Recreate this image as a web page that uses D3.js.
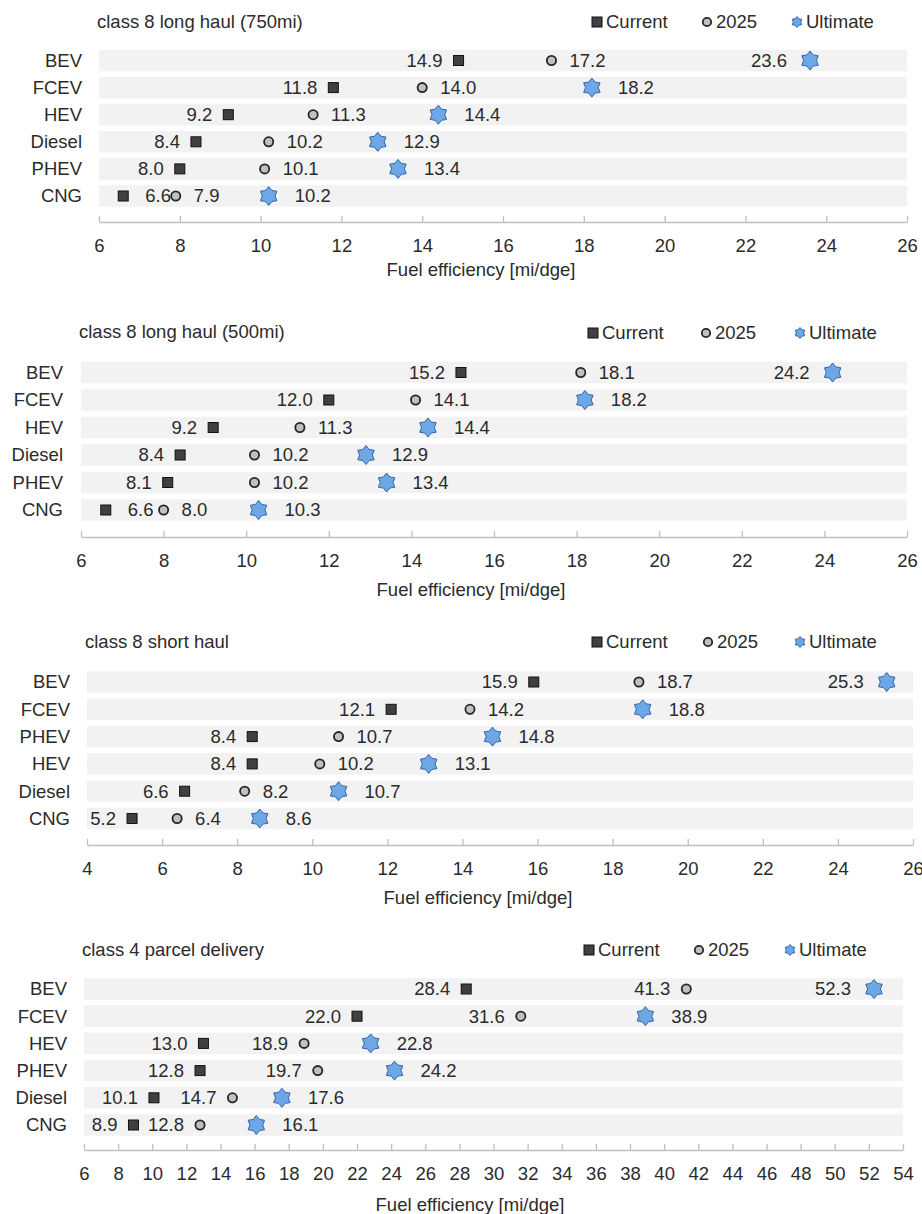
<!DOCTYPE html>
<html>
<head>
<meta charset="utf-8">
<script src="https://cdn.jsdelivr.net/npm/d3@7"></script>
<style>
  html, body { margin: 0; padding: 0; background: #ffffff; }
  svg { display: block; }
  text { font-family: "Liberation Sans", Arial, sans-serif; fill: #2b2b2b; }
</style>
</head>
<body>
<script>
// ---------------- DATA ----------------
const panelTitles = [
  "class 8 long haul (750mi)",
  "class 8 long haul (500mi)",
  "class 8 short haul",
  "class 4 parcel delivery"
];
const categories = [
  ["BEV", "FCEV", "HEV", "Diesel", "PHEV", "CNG"],
  ["BEV", "FCEV", "HEV", "Diesel", "PHEV", "CNG"],
  ["BEV", "FCEV", "PHEV", "HEV", "Diesel", "CNG"],
  ["BEV", "FCEV", "HEV", "PHEV", "Diesel", "CNG"]
];
const seriesNames = ["Current", "2025", "Ultimate"];
const currentValues = [
  [14.9, 11.8, 9.2, 8.4, 8.0, 6.6],
  [15.2, 12.0, 9.2, 8.4, 8.1, 6.6],
  [15.9, 12.1, 8.4, 8.4, 6.6, 5.2],
  [28.4, 22.0, 13.0, 12.8, 10.1, 8.9]
];
const values2025 = [
  [17.2, 14.0, 11.3, 10.2, 10.1, 7.9],
  [18.1, 14.1, 11.3, 10.2, 10.2, 8.0],
  [18.7, 14.2, 10.7, 10.2, 8.2, 6.4],
  [41.3, 31.6, 18.9, 19.7, 14.7, 12.8]
];
const ultimateValues = [
  [23.6, 18.2, 14.4, 12.9, 13.4, 10.2],
  [24.2, 18.2, 14.4, 12.9, 13.4, 10.3],
  [25.3, 18.8, 14.8, 13.1, 10.7, 8.6],
  [52.3, 38.9, 22.8, 24.2, 17.6, 16.1]
];
const xDomains = [[6, 26], [6, 26], [4, 26], [6, 54]];
const xTickLabels = [
  [6, 8, 10, 12, 14, 16, 18, 20, 22, 24, 26],
  [6, 8, 10, 12, 14, 16, 18, 20, 22, 24, 26],
  [4, 6, 8, 10, 12, 14, 16, 18, 20, 22, 24, 26],
  [6, 8, 10, 12, 14, 16, 18, 20, 22, 24, 26, 28, 30, 32, 34, 36, 38, 40, 42, 44, 46, 48, 50, 52, 54]
];
const axisTitle = "Fuel efficiency [mi/dge]";

// ---------------- LAYOUT (positions / styles) ----------------
const FS = 18.5;
const layout = [
  { left: 99, right: 907, titleY: 22, row0: 60.5, step: 27.1, axisY: 222, catRight: 82, atX: 481, atDy: 48,
    legendY: 22, legendX: [597, 707, 797],
    sides: [[-1,-1,-1,-1,-1,1],[1,1,1,1,1,1],[-1,1,1,1,1,1]] },
  { left: 81, right: 907, titleY: 332, row0: 372.5, step: 27.5, axisY: 537, catRight: 63, atX: 471, atDy: 53,
    legendY: 333, legendX: [593, 706, 800],
    sides: [[-1,-1,-1,-1,-1,1],[1,1,1,1,1,1],[-1,1,1,1,1,1]] },
  { left: 87, right: 913, titleY: 642, row0: 682, step: 27.3, axisY: 845, catRight: 70, atX: 478, atDy: 53,
    legendY: 642, legendX: [597, 708, 800],
    sides: [[-1,-1,-1,-1,-1,-1],[1,1,1,1,1,1],[-1,1,1,1,1,1]] },
  { left: 84, right: 903, titleY: 950, row0: 989, step: 27.2, axisY: 1150, catRight: 67, atX: 470, atDy: 55,
    legendY: 950, legendX: [589, 699, 790],
    sides: [[-1,-1,-1,-1,-1,-1],[-1,-1,-1,-1,-1,-1],[-1,1,1,1,1,1]] }
];
const labelOffset = [ {l: 16, r: 22}, {l: 16, r: 18}, {l: 23, r: 26} ];

const W = 922, H = 1214;
const svg = d3.select("body").append("svg").attr("width", W).attr("height", H);

function starPath(ro, ri, n) {
  const pts = [];
  for (let i = 0; i < 2 * n; i++) {
    const a = -Math.PI / 2 + i * Math.PI / n;
    const r = i % 2 === 0 ? ro : ri;
    pts.push([r * Math.cos(a), r * Math.sin(a)]);
  }
  return "M" + pts.map(p => p[0].toFixed(2) + "," + p[1].toFixed(2)).join("L") + "Z";
}

function drawMarker(g, kind, x, y, small) {
  if (kind === 0) {
    const s = 10;
    g.append("rect").attr("x", x - s / 2).attr("y", y - s / 2).attr("width", s).attr("height", s)
      .attr("fill", "#404040").attr("stroke", "#111").attr("stroke-width", 1);
  } else if (kind === 1) {
    g.append("circle").attr("cx", x).attr("cy", y).attr("r", small ? 4.2 : 4.6)
      .attr("fill", "#c0c0c0").attr("stroke", "#262626").attr("stroke-width", 1.8);
  } else {
    g.append("path").attr("d", small ? starPath(5.5, 3.7, 6) : starPath(9.5, 6.4, 6))
      .attr("transform", `translate(${x},${y})`)
      .attr("fill", "#6ea7e6").attr("stroke", "#3466a8").attr("stroke-width", 1);
  }
}

layout.forEach((L, p) => {
  const g = svg.append("g");
  const x = d3.scaleLinear().domain(xDomains[p]).range([L.left, L.right]);
  const cats = categories[p];
  const y = d3.scalePoint().domain(cats).range([L.row0, L.row0 + L.step * (cats.length - 1)]);
  const bandH = 21.5;

  // title
  g.append("text").attr("x", L.left - 2).attr("y", L.titleY).attr("dy", "0.35em")
    .attr("font-size", FS).text(panelTitles[p]);

  // legend
  seriesNames.forEach((s, i) => {
    drawMarker(g, i, L.legendX[i], L.legendY, true);
    g.append("text").attr("x", L.legendX[i] + 9).attr("y", L.legendY).attr("dy", "0.35em")
      .attr("font-size", FS).text(s);
  });

  // bands
  g.selectAll("rect.band").data(cats).enter().append("rect").attr("class", "band")
    .attr("x", L.left).attr("width", L.right - L.left)
    .attr("y", d => y(d) - bandH / 2).attr("height", bandH)
    .attr("fill", "#f2f2f2");

  // category labels
  g.selectAll("text.cat").data(cats).enter().append("text").attr("class", "cat")
    .attr("x", L.catRight).attr("y", d => y(d)).attr("dy", "0.35em")
    .attr("text-anchor", "end").attr("font-size", FS).text(d => d);

  // x axis
  const axis = d3.axisBottom(x).tickValues(xTickLabels[p]).tickSize(0).tickPadding(0)
    .tickFormat(d3.format("d"));
  const ag = g.append("g").attr("transform", `translate(0,${L.axisY})`).call(axis);
  ag.select(".domain").attr("stroke", "#bfbfbf").attr("stroke-width", 1.3);
  ag.selectAll(".tick line").remove();
  ag.selectAll(".tick").append("line").attr("y1", 0).attr("y2", -6)
    .attr("stroke", "#bfbfbf").attr("stroke-width", 1.3);
  ag.selectAll(".tick text").attr("y", 24).attr("dy", "0.35em")
    .attr("font-size", FS).attr("font-family", "Liberation Sans, Arial, sans-serif").attr("fill", "#2b2b2b");

  g.append("text").attr("x", L.atX).attr("y", L.axisY + L.atDy)
    .attr("dy", "0.35em").attr("text-anchor", "middle").attr("font-size", FS).text(axisTitle);

  // markers and value labels
  const series = [currentValues[p], values2025[p], ultimateValues[p]];
  series.forEach((vals, si) => {
    vals.forEach((v, ci) => {
      const cx = x(v), cy = y(cats[ci]);
      drawMarker(g, si, cx, cy, false);
      const side = L.sides[si][ci];
      const off = side < 0 ? labelOffset[si].l : labelOffset[si].r;
      g.append("text").attr("x", cx + side * off).attr("y", cy).attr("dy", "0.35em")
        .attr("text-anchor", side < 0 ? "end" : "start").attr("font-size", FS)
        .text(d3.format(".1f")(v));
    });
  });
});
</script>
</body>
</html>
